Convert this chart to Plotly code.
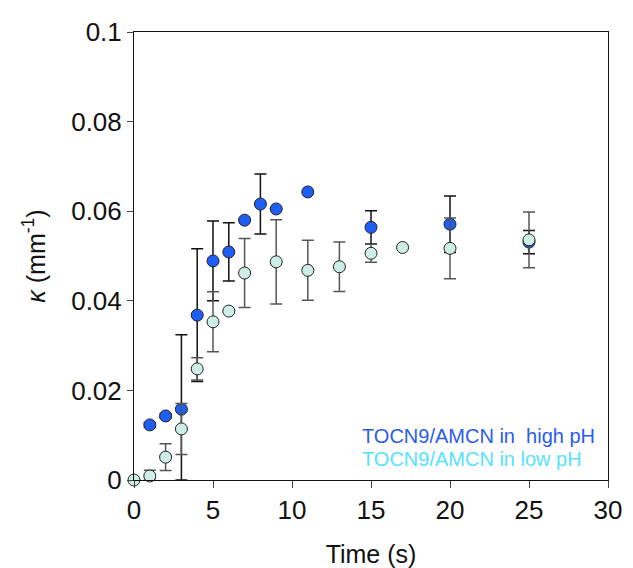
import plotly.graph_objects as go

# High pH series
t_high = [1, 2, 3, 4, 5, 6, 7, 8, 9, 11, 15, 20, 25]
k_high = [0.0123, 0.0143, 0.0158, 0.0368, 0.0489, 0.0509, 0.0580, 0.0616, 0.0605, 0.0643, 0.0564, 0.0571, 0.0531]
e_high = [0.0005, 0.0005, 0.0166, 0.0148, 0.0089, 0.0065, 0.0, 0.0067, 0.0, 0.0, 0.0037, 0.0063, 0.0026]

# Low pH series
t_low = [0, 1, 2, 3, 4, 5, 6, 7, 9, 11, 13, 15, 17, 20, 25]
k_low = [0.0, 0.0009, 0.0051, 0.0114, 0.0248, 0.0353, 0.0377, 0.0462, 0.0487, 0.0468, 0.0476, 0.0506, 0.0519, 0.0517, 0.0536]
e_low = [0.0, 0.0013, 0.0030, 0.0057, 0.0025, 0.0067, 0.0, 0.0077, 0.0094, 0.0067, 0.0055, 0.0020, 0.0, 0.0068, 0.0062]

x_ticks = [0, 5, 10, 15, 20, 25, 30]
y_ticks = [0, 0.02, 0.04, 0.06, 0.08, 0.1]
y_tick_labels = ["0", "0.02", "0.04", "0.06", "0.08", "0.1"]

legend_labels = ["TOCN9/AMCN in  high pH", "TOCN9/AMCN in low pH"]

e_high_minus = [min(e, k) for e, k in zip(e_high, k_high)]
e_low_minus = [min(e, k) for e, k in zip(e_low, k_low)]

FONT = "Liberation Sans, Arial, sans-serif"

fig = go.Figure()
fig.add_trace(go.Scatter(
    x=t_high, y=k_high, mode="markers",
    marker=dict(size=12, color="#1f5ef5", line=dict(color="#222222", width=1)),
    error_y=dict(type="data", array=e_high, arrayminus=e_high_minus, color="#111111", thickness=1.5, width=6),
    cliponaxis=False, showlegend=False,
))
fig.add_trace(go.Scatter(
    x=t_low, y=k_low, mode="markers",
    marker=dict(size=12, color="#cdeee6", line=dict(color="#222222", width=1)),
    error_y=dict(type="data", array=e_low, arrayminus=e_low_minus, color="#555555", thickness=1.5, width=6),
    cliponaxis=False, showlegend=False,
))

fig.add_annotation(x=14.3, y=0.0098, xref="x", yref="y", xanchor="left", yanchor="middle",
                   text=legend_labels[0], showarrow=False,
                   font=dict(family=FONT, size=20, color="#2a5cf0"))
fig.add_annotation(x=14.3, y=0.0047, xref="x", yref="y", xanchor="left", yanchor="middle",
                   text=legend_labels[1], showarrow=False,
                   font=dict(family=FONT, size=20, color="#55e3ff"))

fig.update_layout(
    width=625, height=560,
    margin=dict(l=126, r=25, t=24, b=88, autoexpand=False),
    plot_bgcolor="white", paper_bgcolor="white",
    font=dict(family=FONT, size=26, color="#111111"),
)
fig.update_xaxes(range=[0, 30], tickvals=x_ticks, ticks="outside", ticklen=7, tickcolor="#444",
                 showline=True, linecolor="#111", linewidth=1, mirror=True, showgrid=False, zeroline=False,
                 title=dict(text="Time (s)", font=dict(size=25), standoff=24),
                 tickfont=dict(size=26))
fig.update_yaxes(range=[0, 0.1], tickvals=y_ticks, ticktext=y_tick_labels, ticks="outside", ticklen=6, tickcolor="#444",
                 showline=True, linecolor="#111", linewidth=1, mirror=True, showgrid=False, zeroline=False,
                 title=dict(text="<i>κ</i> (mm<sup>-1</sup>)", font=dict(size=25), standoff=18),
                 tickfont=dict(size=26))

fig.write_html("out.html")
